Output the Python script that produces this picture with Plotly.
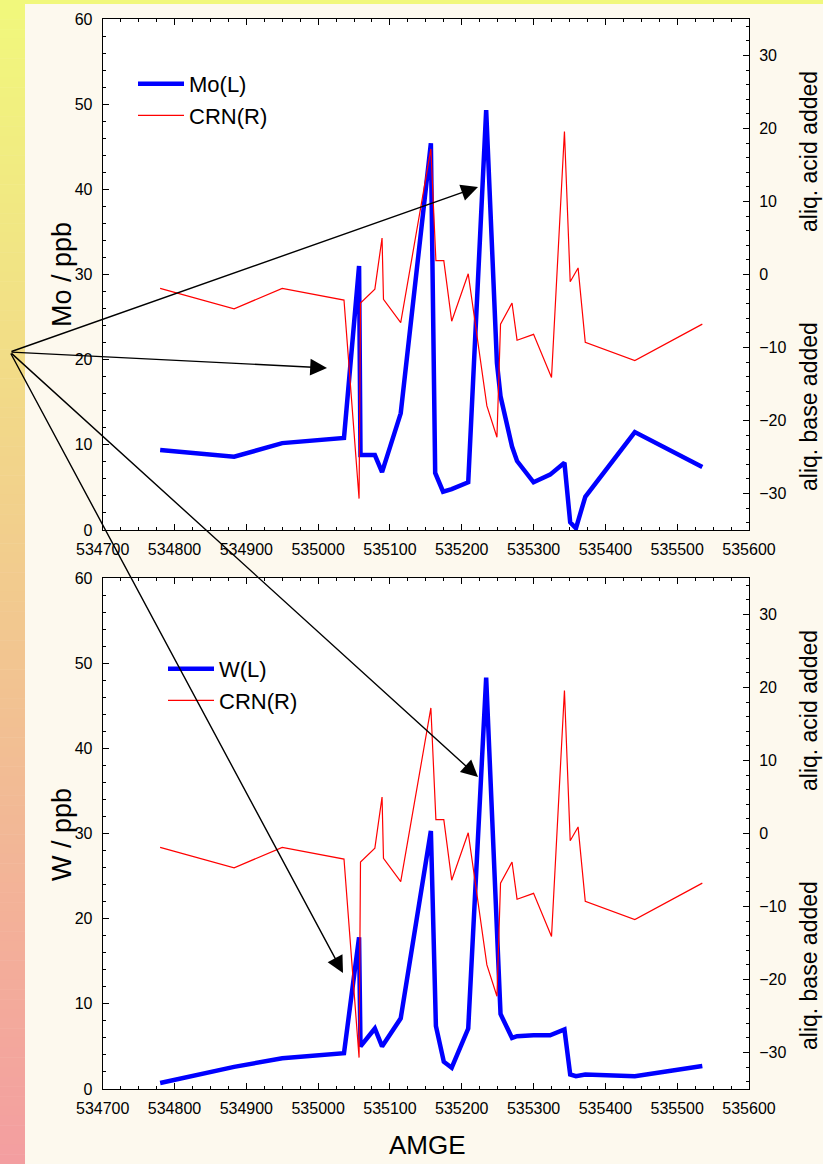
import plotly.graph_objects as go

W_PX, H_PX = 823, 1164

# ---------------- data ----------------
mo_x = [534780, 534883, 534950, 535036, 535057, 535059, 535079, 535089, 535115,
        535157, 535163, 535174, 535186, 535209, 535234, 535249, 535254, 535270,
        535277, 535300, 535323, 535343, 535351, 535359, 535372, 535441, 535535]
mo_y = [9.4, 8.6, 10.2, 10.8, 31.0, 8.8, 8.8, 6.8, 13.7,
        45.4, 6.7, 4.5, 4.8, 5.6, 49.3, 19.6, 15.7, 9.8,
        8.1, 5.6, 6.5, 7.9, 0.9, 0.2, 3.9, 11.5, 7.4]

w_x = [534780, 534883, 534950, 535036, 535057, 535059, 535079, 535089, 535115,
       535157, 535164, 535175, 535186, 535209, 535234, 535254, 535270, 535277,
       535300, 535323, 535343, 535351, 535359, 535372, 535441, 535535]
w_y = [0.7, 2.6, 3.6, 4.2, 17.8, 5.0, 7.1, 5.0, 8.3,
       30.3, 7.4, 3.2, 2.5, 7.1, 48.3, 8.8, 6.0, 6.2,
       6.3, 6.3, 7.0, 1.7, 1.5, 1.7, 1.5, 2.7]

crn_x = [534780, 534883, 534950, 535036, 535057, 535059, 535079, 535089, 535091,
         535115, 535157, 535164, 535175, 535186, 535209, 535235, 535249, 535254,
         535270, 535277, 535300, 535325, 535343, 535351, 535362, 535372, 535441, 535535]
crn_y = [-1.9, -4.7, -1.9, -3.5, -30.7, -3.9, -2.0, 5.0, -3.4,
         -6.6, 17.2, 1.9, 1.9, -6.4, 0.1, -18.0, -22.3, -6.8,
         -3.9, -9.0, -8.2, -14.1, 19.6, -1.0, 0.9, -9.3, -11.8, -6.8]

x_range = [534700, 535600]
left_range = [0, 60]
right_range = [-35, 35]

# ---------------- geometry helpers (pixels -> paper) ----------------
def px(x):
    return x / W_PX

def py(y):
    return 1 - y / H_PX

plot_l, plot_r = 102.7, 749.0
top_t, top_b = 19.0, 530.0
bot_t, bot_b = 578.0, 1089.0

FONT = "Liberation Sans, Arial, sans-serif"
tickfont = dict(family=FONT, size=16, color="black")

fig = go.Figure()

fig.add_trace(go.Scatter(x=mo_x, y=mo_y, mode="lines", name="Mo(L)",
                         line=dict(color="#0000FF", width=4.5),
                         xaxis="x", yaxis="y", legend="legend"))
fig.add_trace(go.Scatter(x=crn_x, y=crn_y, mode="lines", name="CRN(R)",
                         line=dict(color="#FF0000", width=1.2),
                         xaxis="x", yaxis="y2", legend="legend"))
fig.add_trace(go.Scatter(x=w_x, y=w_y, mode="lines", name="W(L)",
                         line=dict(color="#0000FF", width=4.5),
                         xaxis="x2", yaxis="y3", legend="legend2"))
fig.add_trace(go.Scatter(x=crn_x, y=crn_y, mode="lines", name="CRN(R)",
                         line=dict(color="#FF0000", width=1.2),
                         xaxis="x2", yaxis="y4", legend="legend2"))

xdom = [px(plot_l), px(plot_r)]
topdom = [py(top_b), py(top_t)]
botdom = [py(bot_b), py(bot_t)]

def xaxis_cfg(anchor):
    return dict(domain=xdom, range=x_range, anchor=anchor, dtick=100, tick0=534700,
                ticks="inside", ticklen=6, tickwidth=1, tickcolor="black",
                showline=True, linecolor="black", linewidth=1, mirror="ticks",
                showgrid=False, zeroline=False, tickfont=tickfont,
                ticklabelstandoff=5, tickformat="d", automargin=False,
                minor=dict(dtick=25, ticks="inside", ticklen=3, tickcolor="black",
                           showgrid=False))

def yleft_cfg(dom, anchor):
    return dict(domain=dom, range=left_range, anchor=anchor, dtick=10, tick0=0,
                ticks="inside", ticklen=6, tickwidth=1, tickcolor="black",
                showline=True, linecolor="black", linewidth=1,
                showgrid=False, zeroline=False, tickfont=tickfont,
                ticklabelstandoff=6, automargin=False,
                minor=dict(dtick=2, ticks="inside", ticklen=3, tickcolor="black",
                           showgrid=False))

def yright_cfg(over, anchor):
    return dict(overlaying=over, side="right", range=right_range, anchor=anchor,
                dtick=10, tick0=0,
                ticks="inside", ticklen=6, tickwidth=1, tickcolor="black",
                showline=True, linecolor="black", linewidth=1,
                showgrid=False, zeroline=False, tickfont=tickfont,
                ticklabelstandoff=6, automargin=False,
                minor=dict(dtick=2, ticks="inside", ticklen=3, tickcolor="black",
                           showgrid=False))

# ---------------- background decoration ----------------
shapes = []
top_col = (241, 248, 124)
bot_col = (243, 158, 160)
n = 120
for i in range(n):
    t = i / (n - 1)
    c = tuple(round(top_col[k] + (bot_col[k] - top_col[k]) * t) for k in range(3))
    y0 = H_PX * i / n
    y1 = H_PX * (i + 1) / n + 0.5
    shapes.append(dict(type="rect", xref="paper", yref="paper",
                       x0=0, x1=px(25), y0=py(y1), y1=py(y0),
                       fillcolor="rgb(%d,%d,%d)" % c, line=dict(width=0), layer="below"))
shapes.append(dict(type="rect", xref="paper", yref="paper", x0=0, x1=1,
                   y0=py(4), y1=1, fillcolor="rgb(%d,%d,%d)" % top_col,
                   line=dict(width=0), layer="below"))

# ---------------- titles ----------------
annotations = []
def title(text, x, y, angle=0, size=24):
    annotations.append(dict(text=text, x=px(x), y=py(y), xref="paper", yref="paper",
                            showarrow=False, textangle=angle,
                            xanchor="center", yanchor="middle",
                            font=dict(family=FONT, size=size, color="black")))

title("Mo / ppb", 62, 275, -90, 27)
title("W / ppb", 62, 835, -90, 27)
title("aliq. acid added", 809, 152, -90, 23)
title("aliq. base added", 809, 407, -90, 23)
title("aliq. acid added", 809, 152 + 559, -90, 23)
title("aliq. base added", 809, 407 + 559, -90, 23)
title("AMGE", 427, 1145, 0, 26)

# ---------------- arrows ----------------
origin = (10, 352)
heads = [(478, 187), (327, 368), (478, 777), (343, 973)]
for hx, hy in heads:
    annotations.append(dict(text="", x=px(hx), y=py(hy), xref="paper", yref="paper",
                            showarrow=True, arrowhead=2, arrowsize=2.4, arrowwidth=1.4,
                            arrowcolor="black", standoff=0, startstandoff=0,
                            ax=origin[0] - hx, ay=origin[1] - hy,
                            axref="pixel", ayref="pixel"))

legfont = dict(family=FONT, size=22, color="black")

fig.update_layout(
    width=W_PX, height=H_PX,
    margin=dict(l=0, r=0, t=0, b=0, pad=0, autoexpand=False),
    paper_bgcolor="#FDF9EE",
    plot_bgcolor="white",
    xaxis=xaxis_cfg("y"),
    yaxis=yleft_cfg(topdom, "x"),
    yaxis2=yright_cfg("y", "x"),
    xaxis2=xaxis_cfg("y3"),
    yaxis3=yleft_cfg(botdom, "x2"),
    yaxis4=yright_cfg("y3", "x2"),
    shapes=shapes,
    annotations=annotations,
    legend=dict(x=px(133), y=py(63), xanchor="left", yanchor="top",
                bgcolor="rgba(0,0,0,0)", font=legfont, tracegroupgap=0,
                itemwidth=46),
    legend2=dict(x=px(163), y=py(648), xanchor="left", yanchor="top",
                 bgcolor="rgba(0,0,0,0)", font=legfont, tracegroupgap=0,
                 itemwidth=46),
    showlegend=True,
)

fig.write_html("out.html")
